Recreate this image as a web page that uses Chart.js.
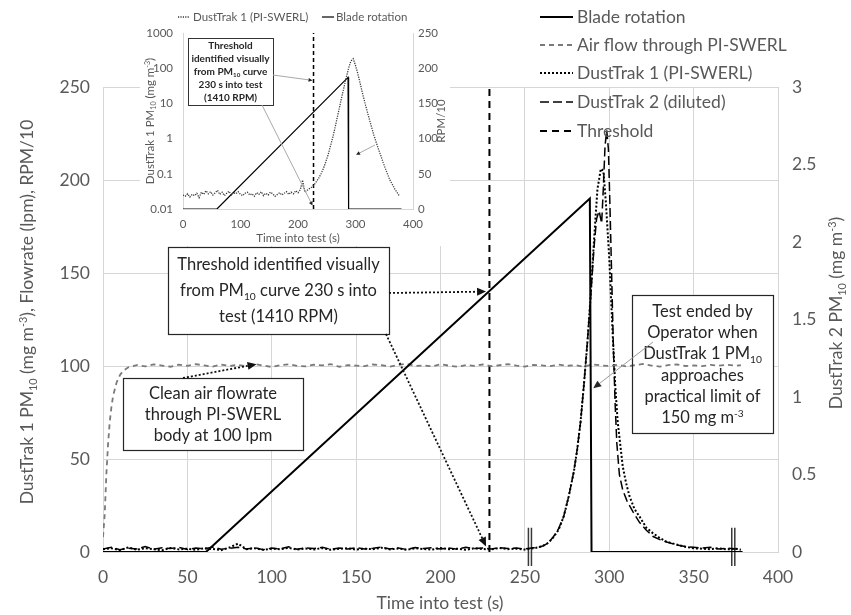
<!DOCTYPE html>
<html><head><meta charset="utf-8">
<script src="https://cdn.jsdelivr.net/npm/chart.js@4.4.1/dist/chart.umd.min.js"></script>
<style>
html,body{margin:0;padding:0;background:#fff;}
#wrap{position:relative;width:851px;height:615px;overflow:hidden;}
canvas{position:absolute;top:0;}
</style>
</head><body>
<div id="wrap">
<canvas id="main" width="851" height="615" style="left:0"></canvas>
<canvas id="inset" width="310" height="246" style="left:140px;background:#fff"></canvas>
</div>
<script>
// ---------------- MAIN CHART DATA ----------------
const mainXTicks = [0,50,100,150,200,250,300,350,400];
const mainLeftTicks = [0,50,100,150,200,250];
const mainRightTicks = [0,0.5,1,1.5,2,2.5,3];

const bladeTime  = [0, 61, 288.5, 289.5, 379];
const bladeRPM10 = [0, 0, 190, 0, 0];

const airTime = [0,1,2,3,4,5,6,8,10,12,15,20,25,30,35,40,45,50,55,60,65,70,75,80,85,90,95,100,105,110,115,120,125,130,135,140,145,150,155,160,165,170,175,180,185,190,195,200,205,210,215,220,225,230,235,240,245,250,255,260,265,270,275,280,285,290,295,300,305,310,315,320,325,330,335,340,345,350,355,360,365,370,375,378];
const airFlow = [8,20,42,58,70,78,84,91,95,97.5,99.3,
 100.5,99.8,100.9,100.2,99.6,100.7,100.1,101,100.3,99.7,
 100.8,100,100.6,99.9,101.1,100.2,99.5,100.4,100.9,100.1,
 99.8,100.7,100.3,101,99.6,100.5,100.2,99.9,100.8,100.4,
 99.7,100.6,101.2,100,100.3,99.8,100.9,100.2,99.6,100.5,
 100.1,100.8,99.9,100.4,101,100.2,99.7,100.6,100.3,99.9,
 100.7,100.1,100.5,99.6,100.9,100.3,100,100.6,99.8,100.4,
 101.1,100.2,99.7,100.5,100.8,100,100.3,99.9,100.6,100.2,
 100.7,100.1,100.4];

const dt1Time = [0,5,10,15,20,25,30,35,40,45,50,55,60,65,70,75,80,85,90,95,100,105,110,115,120,125,130,135,140,145,150,155,160,165,170,175,180,185,190,195,200,205,210,215,220,225,230,235,240,245,250,255,
 258,261,264,267,270,273,276,279,281,283,285,287,289,291,293,295,296.5,298,300,302,303.5,305,306.5,308,310,312,315,318,322,326,330,334,338,344,350,355,360,365,370,375,378];
const dt1PM10 = [1.5,2,1,2.5,1.2,2,1.5,1,2.2,1.4,
 1.8,1.2,2,1.6,1,2.4,4.5,1.5,2,1.2,
 1.8,1.5,2.2,1.3,1.9,1.4,2.1,1.2,1.7,2,
 1.3,1.8,1.5,2.3,1.4,1.9,1.2,2,1.6,1.3,
 2.1,1.5,1.8,1.2,2,1.6,1.4,2.2,1.5,1.8,
 1.3,2,
 2.5,3.5,5,8,12,19,30,43,55,70,90,112,138,168,195,206,205,188,158,118,90,70,58,46,37,30,23,19,13,10,7.5,5.5,4.5,3,2,1.8,1.5,2,1.4,1.8,1.2];

const dt2Time = [0,5,10,15,20,25,30,35,40,45,50,55,60,65,70,75,80,85,90,95,100,105,110,115,120,125,130,135,140,145,150,155,160,165,170,175,180,185,190,195,200,205,210,215,220,225,230,235,240,245,250,255,
 258,261,264,267,270,273,276,279,281,283,285,287,289,291,292.5,294,295.5,296.5,297.5,298.5,299.5,300.5,301.5,302.5,303.5,304.5,306,308,310.5,314,318,322,326,330,334,340,345,350,355,360,365,370,375,378];
const dt2PM10 = [0.02,0.03,0.015,0.025,0.02,0.035,0.018,0.028,0.022,0.03,
 0.016,0.026,0.02,0.032,0.018,0.024,0.03,0.02,0.027,0.015,
 0.025,0.02,0.033,0.018,0.026,0.022,0.03,0.017,0.025,0.02,
 0.028,0.019,0.024,0.031,0.02,0.026,0.016,0.029,0.022,0.027,
 0.02,0.025,0.018,0.03,0.023,0.026,0.02,0.028,0.022,0.025,
 0.02,0.027,
 0.03,0.04,0.06,0.1,0.15,0.23,0.36,0.52,0.66,0.84,
 1.08,1.35,1.65,1.97,2.15,2.2,2.12,2.35,2.62,2.72,
 2.6,2.2,1.75,1.3,0.95,0.7,0.5,0.4,0.33,0.26,
 0.19,0.14,0.1,0.08,0.065,0.045,0.035,0.03,0.025,0.03,
 0.02,0.025,0.02,0.02];

const thresholdTime = 229;
const thresholdSpan = [0, 250];
const markerTimes = [253, 373.5];

// ---------------- INSET DATA ----------------
const insetXTicks = [0,100,200,300,400];
const insetLogTicks = [0.01,0.1,1,10,100,1000];
const insetRightTicks = [0,50,100,150,200,250];
const insetTime = [0,4,8,12,16,20,24,28,32,36,40,44,48,52,56,60,64,68,72,76,80,84,88,92,96,100,104,108,112,116,120,124,128,132,136,140,144,148,152,156,160,164,168,172,176,180,184,188,192,196,200,204,208,212,216,220,224,
 228,232,236,240,244,248,252,256,260,264,268,272,276,280,284,288,292,296,300,304,308,312,316,320,324,328,332,336,340,344,348,352,356,360,364,368,372,376];
const insetDT1 = [0.025,0.023,0.027,0.022,0.026,0.024,0.028,0.021,0.03,0.026,
 0.033,0.027,0.031,0.025,0.029,0.034,0.026,0.03,0.024,0.028,
 0.032,0.025,0.029,0.027,0.031,0.026,0.024,0.028,0.03,0.025,
 0.027,0.023,0.029,0.026,0.031,0.024,0.028,0.025,0.03,0.027,
 0.023,0.026,0.029,0.025,0.028,0.031,0.026,0.03,0.027,0.033,
 0.029,0.035,0.066,0.03,0.034,0.038,0.042,
 0.048,0.06,0.075,0.1,0.14,0.21,0.33,0.58,1.0,1.9,
 3.8,7.5,15,29,55,100,160,185,120,70,
 38,20,11,6.2,3.6,2.1,1.25,0.78,0.5,0.33,
 0.21,0.14,0.095,0.066,0.05,0.038,0.03,0.024];
const insetBladeTime  = [0, 59, 287, 288, 380];
const insetBladeRPM10 = [0, 0, 187, 0, 0];
const insetThresholdTime = 227;

// ---------------- HELPERS ----------------
const FONT = "Lato, 'Noto Sans', sans-serif";
const TXT = '#595959';
const GRID = '#d6d6d6';
function pts(xs, ys){ return xs.map((x,i)=>({x:x, y:ys[i]})); }
function parseRich(s){
  const out=[]; const re=/(_\{[^}]*\}|\^\{[^}]*\})/g; let last=0,m;
  while((m=re.exec(s))){ if(m.index>last) out.push([s.slice(last,m.index),0]); out.push([m[0].slice(2,-1), m[0][0]==='_'?1:2]); last=re.lastIndex; }
  if(last<s.length) out.push([s.slice(last),0]);
  return out;
}
function drawRich(ctx, s, cx, cy, o){
  const size=o.size, wt=o.weight||'normal';
  const segs=parseRich(s);
  ctx.save(); ctx.translate(cx,cy); if(o.angle) ctx.rotate(o.angle);
  ctx.fillStyle=o.color||TXT; ctx.textAlign='left'; ctx.textBaseline='alphabetic';
  let total=0;
  const widths=segs.map(([t,m])=>{ ctx.font=`${wt} ${m?size*0.62:size}px ${FONT}`; const w=ctx.measureText(t).width; total+=w; return w; });
  let x = o.align==='left' ? 0 : -total/2; const base=size*0.36;
  segs.forEach(([t,m],i)=>{ ctx.font=`${wt} ${m?size*0.62:size}px ${FONT}`; const dy=m===1?size*0.2:(m===2?-size*0.38:0); ctx.fillText(t,x,base+dy); x+=widths[i]; });
  ctx.restore();
}
function arrow(ctx,x1,y1,x2,y2,o){
  const ang=Math.atan2(y2-y1,x2-x1), hl=o.head||8, hw=o.headW||3.5;
  const bx=x2-hl*Math.cos(ang), by=y2-hl*Math.sin(ang);
  ctx.save(); ctx.strokeStyle=o.color; ctx.lineWidth=o.width; ctx.setLineDash(o.dash||[]);
  ctx.beginPath(); ctx.moveTo(x1,y1); ctx.lineTo(bx,by); ctx.stroke();
  ctx.setLineDash([]); ctx.fillStyle=o.headColor||o.color;
  ctx.beginPath(); ctx.moveTo(x2,y2);
  ctx.lineTo(bx+hw*Math.sin(ang), by-hw*Math.cos(ang));
  ctx.lineTo(bx-hw*Math.sin(ang), by+hw*Math.cos(ang));
  ctx.closePath(); ctx.fill(); ctx.restore();
}
function fixedTicks(arr){ return function(s){ s.ticks = arr.map(v=>({value:v})); }; }

// ---------------- MAIN CHART ----------------
const mainBoxes = [
  {x:168,y:247,w:221,h:87, lines:['Threshold identified visually','from PM_{10} curve 230 s into','test (1410 RPM)'], size:16.5, lh:26},
  {x:123,y:378,w:180,h:72, lines:['Clean air flowrate','through PI-SWERL','body at 100 lpm'], size:16.5, lh:21},
  {x:632,y:295,w:141,h:138, lines:['Test ended by','Operator when','DustTrak 1 PM_{10}','approaches','practical limit of','150 mg m^{-3}'], size:16.5, lh:21.3}
];
const mainArrows = [
  {from:[389,293], to:[227,140]},
  {from:[386,334], to:[227,3]},
  {from:[183,378], to:[91,101]},
  {from:[653,342], to:[290.5,88], gray:true}
];
const mainLegendRows = [17,45,73,102,131];

const markerData = [];
markerTimes.forEach(t=>{ [-0.9,0.9].forEach(d=>{ markerData.push({x:t+d,y:-7.5},{x:t+d,y:13},{x:t+d,y:null}); }); });

const mainPlugin = {
  id:'mainDecor',
  beforeDatasetsDraw(chart){
    const ctx=chart.ctx; ctx.save(); ctx.fillStyle='#fff';
    mainBoxes.forEach(b=>ctx.fillRect(b.x,b.y,b.w,b.h)); ctx.restore();
  },
  afterDatasetsDraw(chart){
    const ctx=chart.ctx, xs=chart.scales.x, ys=chart.scales.y;
    mainBoxes.forEach(b=>{
      ctx.save(); ctx.strokeStyle='#262626'; ctx.lineWidth=1.2; ctx.strokeRect(b.x+0.5,b.y+0.5,b.w,b.h); ctx.restore();
      const cy=b.y+b.h/2;
      b.lines.forEach((ln,i)=>drawRich(ctx,ln,b.x+b.w/2,cy+(i-(b.lines.length-1)/2)*b.lh,{size:b.size,color:'#262626'}));
    });
    mainArrows.forEach(a=>{
      const tx=xs.getPixelForValue(a.to[0]), ty=ys.getPixelForValue(a.to[1]);
      if(a.gray) arrow(ctx,a.from[0],a.from[1],tx,ty,{color:'#9a9a9a',width:1,head:8,headW:3.5,headColor:'#262626'});
      else arrow(ctx,a.from[0],a.from[1],tx,ty,{color:'#111',width:1.8,dash:[2,2],head:9,headW:4});
    });
  },
  afterDraw(chart){
    const ctx=chart.ctx;
    chart.data.datasets.forEach((ds,i)=>{
      if(i>=mainLegendRows.length) return;
      const y=mainLegendRows[i];
      ctx.save(); ctx.strokeStyle=ds.borderColor; ctx.lineWidth=ds.borderWidth; ctx.setLineDash(ds.borderDash||[]);
      ctx.beginPath(); ctx.moveTo(540,y); ctx.lineTo(573,y); ctx.stroke(); ctx.restore();
      drawRich(ctx, ds.label, 577, y, {size:17.5, align:'left', color:TXT});
    });
    drawRich(ctx,'DustTrak 1 PM_{10} (mg m^{-3}), Flowrate (lpm), RPM/10',27,312,{size:17.5,angle:-Math.PI/2});
    drawRich(ctx,'DustTrak 2 PM_{10} (mg m^{-3})',836,313,{size:17.5,angle:-Math.PI/2});
    drawRich(ctx,'Time into test (s)',440,603,{size:17.5});
  }
};

const tickFont = {family:FONT, size:17.5};
new Chart(document.getElementById('main'), {
  type:'line',
  data:{ datasets:[
    {label:'Blade rotation', data:pts(bladeTime,bladeRPM10), yAxisID:'y', borderColor:'#000', borderWidth:2, borderDash:[]},
    {label:'Air flow through PI-SWERL', data:pts(airTime,airFlow), yAxisID:'y', borderColor:'#7a7a7a', borderWidth:1.8, borderDash:[5,4]},
    {label:'DustTrak 1 (PI-SWERL)', data:pts(dt1Time,dt1PM10), yAxisID:'y', borderColor:'#000', borderWidth:2, borderDash:[2,2]},
    {label:'DustTrak 2 (diluted)', data:pts(dt2Time,dt2PM10), yAxisID:'y1', borderColor:'#000', borderWidth:1.5, borderDash:[9,4]},
    {label:'Threshold', data:[{x:thresholdTime,y:thresholdSpan[0]},{x:thresholdTime,y:thresholdSpan[1]}], yAxisID:'y', borderColor:'#000', borderWidth:2, borderDash:[7,5]},
    {label:'markers', data:markerData, yAxisID:'y', borderColor:'#3a3a3a', borderWidth:1.5, spanGaps:false, clip:false}
  ]},
  options:{
    responsive:false, animation:false, devicePixelRatio:1,
    layout:{padding:{top:87,left:0,right:0,bottom:0}},
    elements:{point:{radius:0}, line:{tension:0}},
    plugins:{legend:{display:false}, tooltip:{enabled:false}},
    scales:{
      x:{type:'linear', min:0, max:400, afterBuildTicks:fixedTicks(mainXTicks),
         ticks:{font:tickFont, color:TXT, padding:15, maxRotation:0, callback:v=>String(v)},
         grid:{color:GRID, drawTicks:false}, border:{color:GRID},
         afterFit:s=>{s.height=63;}},
      y:{type:'linear', position:'left', min:0, max:250, afterBuildTicks:fixedTicks(mainLeftTicks),
         ticks:{font:tickFont, color:TXT, padding:13, callback:v=>String(v)},
         grid:{color:GRID, drawTicks:false}, border:{color:GRID},
         afterFit:s=>{s.width=103;}},
      y1:{type:'linear', position:'right', min:0, max:3, afterBuildTicks:fixedTicks(mainRightTicks),
         ticks:{font:tickFont, color:TXT, padding:14, callback:v=>String(v)},
         grid:{display:false, drawTicks:false}, border:{color:GRID},
         afterFit:s=>{s.width=73;}}
    }
  },
  plugins:[mainPlugin]
});

// ---------------- INSET CHART ----------------
const insetBox = {x:48,y:38,w:85,h:67, lines:['Threshold','identified visually','from PM_{10} curve','230 s into test','(1410 RPM)'], lh:13};
const insetPlugin = {
  id:'insetDecor',
  afterDatasetsDraw(chart){
    const ctx=chart.ctx, xs=chart.scales.x, ys=chart.scales.y, y1=chart.scales.y1;
    const b=insetBox;
    ctx.save(); ctx.strokeStyle='#333'; ctx.lineWidth=1; ctx.strokeRect(b.x+0.5,b.y+0.5,b.w,b.h); ctx.restore();
    b.lines.forEach((ln,i)=>drawRich(ctx,ln,b.x+b.w/2,b.y+b.h/2+(i-(b.lines.length-1)/2)*b.lh,{size:10,weight:'bold',color:'#262626'}));
    arrow(ctx,133,75,xs.getPixelForValue(insetThresholdTime)-1,ys.getPixelForValue(45),{color:'#a8a8a8',width:1,head:4,headW:2,headColor:'#222'});
    arrow(ctx,122,105,xs.getPixelForValue(insetThresholdTime)-1,ys.getPixelForValue(0.0125),{color:'#a8a8a8',width:1,head:4,headW:2,headColor:'#222'});
    arrow(ctx,235,145,xs.getPixelForValue(301),y1.getPixelForValue(77),{color:'#a8a8a8',width:1,head:4,headW:2,headColor:'#222'});
    const ds=chart.data.datasets;
    [[0,38,53],[1,182,196]].forEach(([i,x0,tx])=>{
      ctx.save(); ctx.strokeStyle=ds[i].borderColor; ctx.lineWidth=ds[i].borderWidth; ctx.setLineDash(ds[i].borderDash||[]);
      ctx.beginPath(); ctx.moveTo(x0,17); ctx.lineTo(x0+12,17); ctx.stroke(); ctx.restore();
      drawRich(ctx, ds[i].label, tx, 17, {size:11.5, align:'left', color:TXT});
    });
    drawRich(ctx,'DustTrak 1 PM_{10} (mg m^{-3})',10,121,{size:11.5,angle:-Math.PI/2});
    drawRich(ctx,'RPM/10',301,121,{size:11.5,angle:-Math.PI/2});
    drawRich(ctx,'Time into test (s)',158,238,{size:11.5});
  }
};
const insetTick = {family:FONT, size:11.5};
new Chart(document.getElementById('inset'), {
  type:'line',
  data:{ datasets:[
    {label:'DustTrak 1 (PI-SWERL)', data:pts(insetTime,insetDT1), yAxisID:'y', borderColor:'#3a3a3a', borderWidth:1.3, borderDash:[1.2,1.2]},
    {label:'Blade rotation', data:pts(insetBladeTime,insetBladeRPM10), yAxisID:'y1', borderColor:'#000', borderWidth:1.2, borderDash:[]},
    {label:'Threshold', data:[{x:insetThresholdTime,y:0.01},{x:insetThresholdTime,y:1000}], yAxisID:'y', borderColor:'#000', borderWidth:1.5, borderDash:[4,3]}
  ]},
  options:{
    responsive:false, animation:false, devicePixelRatio:1,
    layout:{padding:{top:33,left:0,right:0,bottom:0}},
    elements:{point:{radius:0}, line:{tension:0}},
    plugins:{legend:{display:false}, tooltip:{enabled:false}},
    scales:{
      x:{type:'linear', min:0, max:400, afterBuildTicks:fixedTicks(insetXTicks),
         ticks:{font:insetTick, color:TXT, padding:8, maxRotation:0, callback:v=>String(v)},
         grid:{display:false, drawTicks:false}, border:{color:GRID},
         afterFit:s=>{s.height=37;}},
      y:{type:'logarithmic', position:'left', min:0.01, max:1000, afterBuildTicks:fixedTicks(insetLogTicks),
         ticks:{font:insetTick, color:TXT, padding:10, callback:v=>String(v)},
         grid:{display:false, drawTicks:false}, border:{color:GRID},
         afterFit:s=>{s.width=43;}},
      y1:{type:'linear', position:'right', min:0, max:250, afterBuildTicks:fixedTicks(insetRightTicks),
         ticks:{font:insetTick, color:TXT, padding:5, callback:v=>String(v)},
         grid:{display:false, drawTicks:false}, border:{color:GRID},
         afterFit:s=>{s.width=37;}}
    }
  },
  plugins:[insetPlugin]
});
</script>
</body></html>
